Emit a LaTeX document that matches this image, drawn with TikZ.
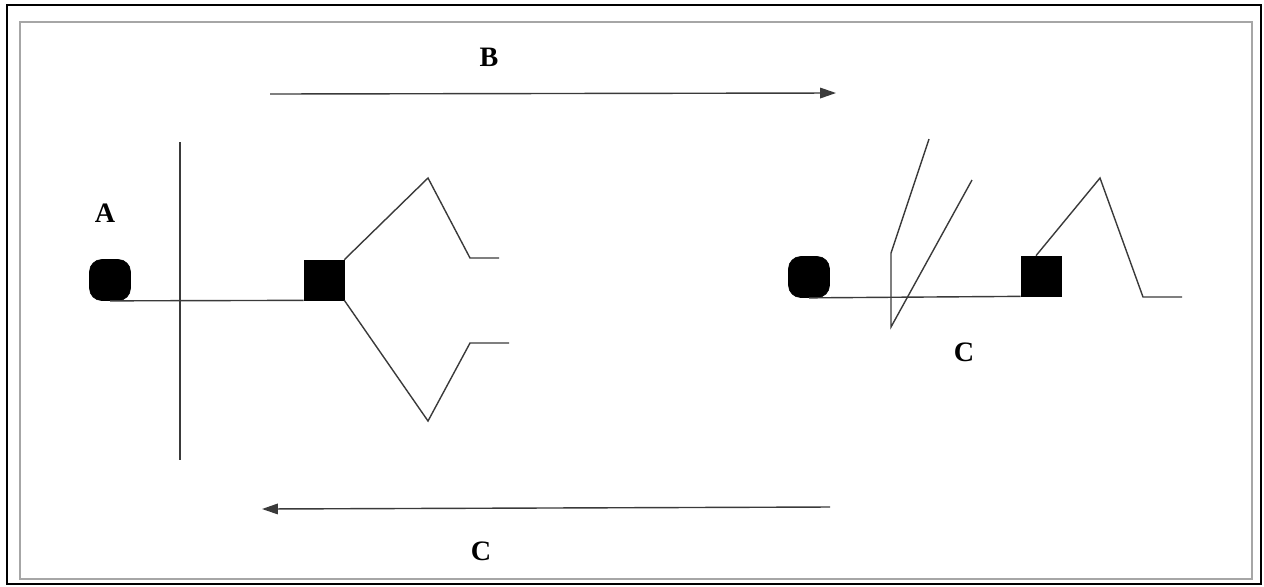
\documentclass[tikz,border=0pt]{standalone}
\usepackage{fontspec}
\setmainfont{Liberation Serif}
\usetikzlibrary{arrows.meta,positioning}
\definecolor{ink}{HTML}{3A3A3A}

\begin{document}
\begin{tikzpicture}[x=0.02cm, y=-0.02cm,
  blob/.style={draw=black, fill=black, rounded corners=7pt, minimum width=0.82cm,
               minimum height=0.82cm, inner sep=0pt},
  blk/.style={draw=black, fill=black, minimum width=0.8cm, minimum height=0.8cm, inner sep=0pt},
  wire/.style={draw=ink, line width=0.8pt},
  arr/.style={wire, -{Triangle[length=9pt, width=6pt]}},
  lbl/.style={font=\fontsize{16}{19}\selectfont\bfseries}
]
  \useasboundingbox (0,0) rectangle (1264,586);
  % frames
  \draw[black, line width=1.2pt] (7,5) rectangle (1261,584);
  \draw[black!35, line width=1.4pt] (20,22) rectangle (1252,579);

  % arrows between the two states
  \coordinate (bStart) at (270,94);
  \coordinate (bEnd)   at (836,93);
  \coordinate (cStart) at (830,507);
  \coordinate (cEnd)   at (262,509);
  \draw[arr] (bStart) -- (bEnd);
  \draw[arr] (cStart) -- (cEnd);
  \node[lbl] (labB) at (489,57)  {B};
  \node[lbl] (labC) at (481,551) {C};

  % left state
  \node[lbl] (labA) at (105,213) {A};
  \node[blob] (ovL) at (110,280) {};
  \node[blk]  (sqL) at (324,280) {};
  \coordinate (barTop) at (180,142);
  \coordinate (barBot) at (180,460);
  \draw[wire] (barTop) -- (barBot);
  \draw[wire] (ovL.south) -- (sqL.south west);
  \draw[wire] (sqL.north east) -- (428,178) -- (470,258) -- (499,258);
  \draw[wire] (sqL.south east) -- (428,421) -- (470,343) -- (509,343);

  % right state
  \node[blob] (ovR) at (809,277) {};
  \node[blk]  (sqR) at (1041,276) {};
  \node[lbl]  (labC2) at (964,352) {C};
  \draw[wire] (ovR.south) -- (sqR.south west);
  \draw[wire] (929,139) -- (891,253) -- (891,327) -- (972,180);
  \draw[wire] ([xshift=-0.1cm]sqR.north) -- (1100,178) -- (1143,297) -- (1182,297);
\end{tikzpicture}
\end{document}
